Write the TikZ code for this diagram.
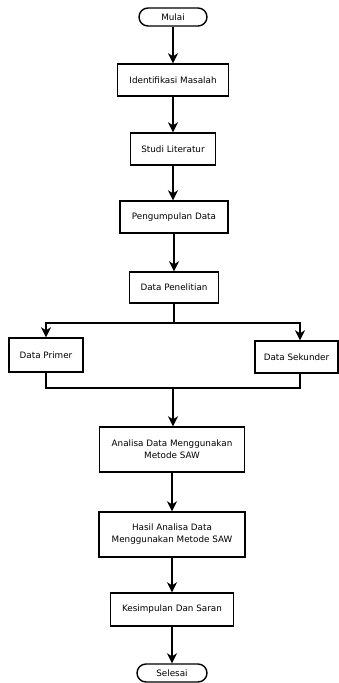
\documentclass[tikz,border=0pt]{standalone}
\usepackage{fontspec}
\setmainfont{DejaVu Sans}
\usetikzlibrary{arrows.meta,positioning,calc}
\begin{document}
\begin{tikzpicture}[x=1pt,y=-1pt,
  font=\fontsize{8.8pt}{12pt}\selectfont,
  box/.style={draw=black,line width=1.4pt,fill=white,inner sep=1pt,align=center},
  term/.style={draw=black,line width=1.4pt,fill=white,rounded corners=9pt,inner sep=1pt,minimum height=18pt},
  conn/.style={line width=1.8pt,-{Stealth[length=10pt,width=10pt,inset=3pt]}},
  line/.style={line width=1.8pt}]
\useasboundingbox (0,0) rectangle (339,683);
\node[term,minimum width=68pt] (mulai) at (173,17) {Mulai};
\node[box,minimum width=111pt,minimum height=32pt] (ident) at (173,80) {Identifikasi Masalah};
\node[box,minimum width=85pt,minimum height=32pt] (studi) at (173,149) {Studi Literatur};
\node[box,minimum width=108pt,minimum height=32pt] (kump) at (174,217) {Pengumpulan Data};
\node[box,minimum width=89pt,minimum height=31pt] (penel) at (174,287.5) {Data Penelitian};
\node[box,minimum width=74pt,minimum height=34pt] (primer) at (46,355) {Data Primer};
\node[box,minimum width=83pt,minimum height=32pt] (sekunder) at (296.5,357) {Data Sekunder};
\node[box,minimum width=145pt,minimum height=45pt] (analisa) at (172,449.5) {Analisa Data Menggunakan\\Metode SAW};
\node[box,minimum width=146pt,minimum height=45pt] (hasil) at (172,534.5) {Hasil Analisa Data\\Menggunakan Metode SAW};
\node[box,minimum width=123pt,minimum height=33pt] (kesimp) at (172,609.5) {Kesimpulan Dan Saran};
\node[term,minimum width=70pt] (selesai) at (172,673) {Selesai};
\coordinate (split) at (174,323);
\coordinate (splitL) at (46,323);
\coordinate (splitR) at (300,323);
\coordinate (mergeL) at (46,388);
\coordinate (mergeR) at (300,388);
\coordinate (merge) at (173,388);
\draw[conn] (mulai.south) -- (mulai.south |- ident.north);
\draw[conn] (ident.south) -- (ident.south |- studi.north);
\draw[conn] (studi.south) -- (studi.south |- kump.north);
\draw[conn] (kump.south) -- (kump.south |- penel.north);
\draw[line] (penel.south) -- (split);
\draw[conn] (split) -- (splitL) -- (splitL |- primer.north);
\draw[conn] (split) -- (splitR) -- (splitR |- sekunder.north);
\draw[line] (primer.south) -- (mergeL) -- (mergeR) -- (mergeR |- sekunder.south);
\draw[conn] (merge) -- (merge |- analisa.north);
\draw[conn] (analisa.south) -- (analisa.south |- hasil.north);
\draw[conn] (hasil.south) -- (hasil.south |- kesimp.north);
\draw[conn] (kesimp.south) -- (kesimp.south |- selesai.north);
\end{tikzpicture}
\end{document}
